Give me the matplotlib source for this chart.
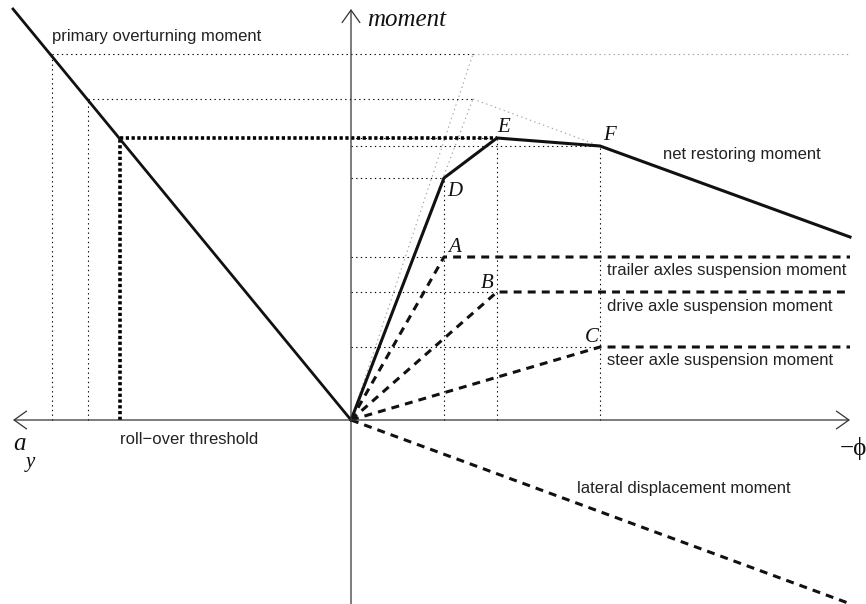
import numpy as np
import matplotlib
matplotlib.use("Agg")
import matplotlib.pyplot as plt

# roll angle side (-phi), moments; units are arbitrary (origin at 0,0)
net_phi = [0, 93, 146, 249, 499]
net_moment = [0, 242, 282, 274, 183]
net_labels = ["", "D", "E", "F", ""]

susp_phi = [93, 146, 249]          # A, B, C
susp_moment = [163, 128, 73]
susp_labels = ["A", "B", "C"]
susp_names = ["trailer axles suspension moment",
              "drive axle suspension moment",
              "steer axle suspension moment"]
phi_end = 499

lateral_phi = [0, 497]
lateral_moment = [0, -183]

# lateral acceleration side (a_y), primary overturning moment
overturn_ay = [-338, 0]
overturn_moment = [411, 0]
ay_levels = [-299, -263, -231]     # last one is roll-over threshold
ay_moments = [366, 321, 282]

# upper bound lines (gray dotted)
bound_phi = [122, 122]
bound_moment = [366, 321]

fig = plt.figure(figsize=(8.66, 6.04), dpi=100)
ax = fig.add_axes([0, 0, 1, 1])
ax.set_xlim(-351, 515)
ax.set_ylim(-184, 420)
ax.axis("off")

ink = "#111111"
sans = "Liberation Sans"
serif = ["Liberation Serif", "DejaVu Serif"]
grey = "#a0a0a0"

def dotted(x, y, color="black", lw=0.8):
    ax.plot(x, y, color=color, lw=lw, dashes=(1.2, 3.0), solid_capstyle="butt")

# axes with open arrowheads
ax.annotate("", xy=(phi_end, 0), xytext=(overturn_ay[0], 0),
            arrowprops=dict(arrowstyle="<->,head_length=0.45,head_width=0.32",
                            mutation_scale=20, lw=0.9, color="#333333",
                            shrinkA=0, shrinkB=0))
ax.annotate("", xy=(0, overturn_moment[0]), xytext=(0, -184),
            arrowprops=dict(arrowstyle="->,head_length=0.45,head_width=0.32",
                            mutation_scale=20, lw=0.9, color="#333333",
                            shrinkA=0, shrinkB=0))

# gray dotted bounds
for bx, by in zip(bound_phi, bound_moment):
    dotted([0, bx], [0, by], color=grey)
dotted([bound_phi[0], phi_end], [bound_moment[0]] * 2, color=grey)
dotted([bound_phi[1], net_phi[3]], [bound_moment[1], net_moment[3]], color=grey)

# left side levels
for i, (ax_x, m) in enumerate(zip(ay_levels, ay_moments)):
    if i < 2:
        dotted([ax_x, ax_x], [0, m])
        dotted([ax_x, bound_phi[i]], [m, m])
    else:
        ax.plot([ax_x, ax_x], [0, m], color="black", lw=2.6, dashes=(0.9, 0.7))
        ax.plot([ax_x, net_phi[2]], [m, m], color="black", lw=2.6, dashes=(0.9, 0.7))

# right side helper lines
for p, m in zip(net_phi[1:4], net_moment[1:4]):
    dotted([p, p], [0, m])
    dotted([0, p], [m, m])
for p, m in zip(susp_phi, susp_moment):
    dotted([0, p], [m, m])

# primary overturning moment
ax.plot(overturn_ay, overturn_moment, color=ink, lw=2.0)
# net restoring moment
ax.plot(net_phi, net_moment, color=ink, lw=2.2, solid_joinstyle="miter")
# suspension moments
for p, m in zip(susp_phi, susp_moment):
    ax.plot([0, p, phi_end], [0, m, m], color=ink, lw=2.2, dashes=(2.6, 2.0))
# lateral displacement moment
ax.plot(lateral_phi, lateral_moment, color=ink, lw=2.2, dashes=(2.6, 2.0))

# point letters
net_off = [None, (11, -14), (7, 10), (9, 11), None]
for p, m, lab, off in zip(net_phi, net_moment, net_labels, net_off):
    if lab:
        ax.text(p + off[0], m + off[1], lab, family=serif, style="italic",
                fontsize=15, color=ink, ha="center", va="center")
susp_off = [(11, 9), (-10, 9), (-8, 10)]
for p, m, lab, off in zip(susp_phi, susp_moment, susp_labels, susp_off):
    ax.text(p + off[0], m + off[1], lab, family=serif, style="italic",
            fontsize=15, color=ink, ha="center", va="center")

# descriptive labels
lab_kw = dict(family=sans, fontsize=12, color="#222222", va="center", ha="left")
ax.text(-299, 383, "primary overturning moment", **lab_kw)
ax.text(312, 266, "net restoring moment", **lab_kw)
for m, name in zip(susp_moment, susp_names):
    ax.text(256, m - 14, name, **lab_kw)
ax.text(226, -68, "lateral displacement moment", **lab_kw)
ax.text(-231, -19, "roll\u2212over threshold", **lab_kw)

# axis titles
ax.text(16, 400, "moment", family=serif, style="italic", fontsize=18, color=ink, va="center")
ax.text(-332, -24, "a", family=serif, style="italic", fontsize=18, color=ink, ha="center", va="center")
ax.text(-321, -43, "y", family=serif, style="italic", fontsize=15, color=ink, ha="center", va="center")
ax.text(489, -29, "\u2212\u03d5", family=serif, fontsize=18, color=ink, ha="left", va="center")

fig.savefig("out.png", dpi=100)
